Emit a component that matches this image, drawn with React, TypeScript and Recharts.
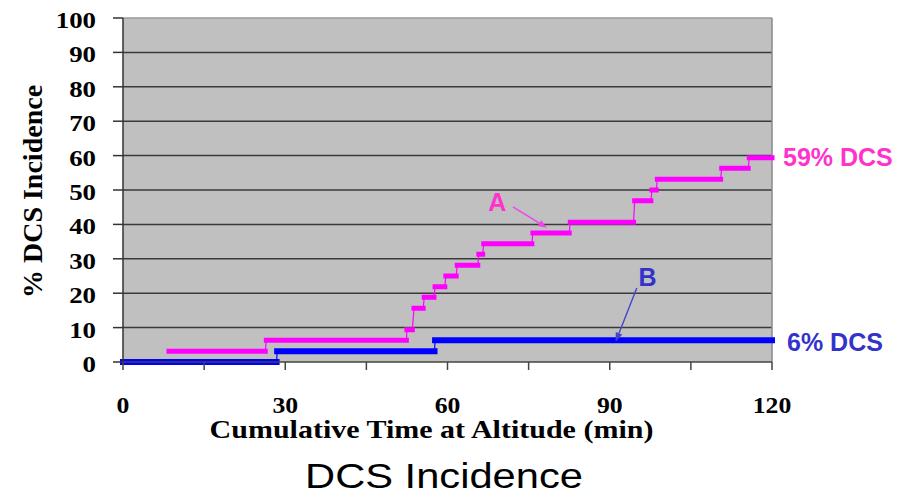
import React from 'react';
import {
  LineChart,
  Line,
  XAxis,
  YAxis,
  CartesianGrid,
  ReferenceLine,
  ReferenceDot,
  Label,
} from 'recharts';

// ---------- data ----------
const xTicks = [0, 15, 30, 45, 60, 75, 90, 105, 120];
const xTickLabels = ['0', '', '30', '', '60', '', '90', '', '120'];
const yTicks = [0, 10, 20, 30, 40, 50, 60, 70, 80, 90, 100];
const gridValues = [10, 20, 30, 40, 50, 60, 70, 80, 90];

// Series A (magenta): step levels (% DCS) and start / end times (min)
const pinkLevels = [3.1, 6.3, 9.4, 15.6, 18.8, 21.9, 25.0, 28.1, 31.3, 34.4, 37.5, 40.6, 46.9, 50.0, 53.1, 56.3, 59.4];
const pinkStarts = [8.5, 26.5, 52.5, 53.8, 55.7, 57.7, 59.7, 61.8, 65.8, 66.7, 75.8, 82.7, 94.6, 97.8, 98.8, 110.7, 115.8];
const pinkEnds = [26.3, 52.4, 53.5, 55.5, 57.5, 59.5, 61.6, 65.6, 66.5, 75.6, 82.5, 94.4, 97.6, 98.6, 110.5, 115.6, 120];

// Series B (blue)
const blueLevels = [0, 3.1, 6.3];
const blueStarts = [0, 28.5, 57.7];
const blueEnds = [28.4, 57.6, 120];

// annotation positions (data coordinates)
const labelA = { x: 69.2, y: 46.4 };
const arrowA = [{ x: 72.1, y: 45.1 }, { x: 78.4, y: 39.0 }];
const labelB = { x: 97.0, y: 24.6 };
const arrowB = [{ x: 95.0, y: 21.5 }, { x: 91.1, y: 5.9 }];
const endA = { x: 120, y: 59.4, text: '59% DCS' };
const endB = { x: 120, y: 6.3, text: '6% DCS' };

// ---------- helpers ----------
type Pt = { x: number; y: number | null };
const thickData = (s: number[], e: number[], l: number[]): Pt[] =>
  s.flatMap((v, i) => [
    { x: v, y: l[i] },
    { x: e[i], y: l[i] },
    { x: e[i], y: null },
  ]);
const thinData = (s: number[], e: number[], l: number[]): Pt[] =>
  s.flatMap((v, i) => [
    { x: v, y: l[i] },
    { x: e[i], y: l[i] },
  ]);

const SERIF = "'Liberation Serif', 'Times New Roman', Times, serif";
const SANS = "'Liberation Sans', Arial, Helvetica, sans-serif";
const PINK = '#ff00ff';
const BLUE = '#0000ff';
const PINK_TEXT = '#ff33cc';
const BLUE_TEXT = '#3333cc';

const XTick = (props: any) => {
  const { x, y, payload } = props;
  const idx = xTicks.indexOf(payload.value);
  const label = idx >= 0 ? xTickLabels[idx] : '';
  if (!label) return <g />;
  return (
    <g transform={`translate(${x},${y + 41}) scale(1.12,1)`}>
      <text x={0} y={0} textAnchor="middle" fontFamily={SERIF} fontWeight="bold" fontSize={23} fill="#000">
        {label}
      </text>
    </g>
  );
};

const YTick = (props: any) => {
  const { x, y, payload } = props;
  return (
    <g transform={`translate(${x - 15},${y + 10}) scale(1.12,1)`}>
      <text x={0} y={0} textAnchor="end" fontFamily={SERIF} fontWeight="bold" fontSize={24} fill="#000">
        {payload.value}
      </text>
    </g>
  );
};

const makeArrow = (color: string) => (p: any) => {
  const { x1, y1, x2, y2 } = p;
  const ang = Math.atan2(y2 - y1, x2 - x1);
  const L = 9;
  const W = 3.5;
  const bx = x2 - L * Math.cos(ang);
  const by = y2 - L * Math.sin(ang);
  const pts = `${x2},${y2} ${bx - W * Math.sin(ang)},${by + W * Math.cos(ang)} ${bx + W * Math.sin(ang)},${by - W * Math.cos(ang)}`;
  return (
    <g>
      <line x1={x1} y1={y1} x2={bx} y2={by} stroke={color} strokeWidth={1.4} />
      <polygon points={pts} fill={color} />
    </g>
  );
};

const makeText = (text: string, color: string, size: number, dx: number, dy: number, anchor: string) => (p: any) => (
  <text
    x={p.cx + dx}
    y={p.cy + dy}
    fill={color}
    fontSize={size}
    fontWeight="bold"
    fontFamily={SANS}
    textAnchor={anchor as any}
  >
    {text}
  </text>
);

export default function App() {
  const pinkThick = thickData(pinkStarts, pinkEnds, pinkLevels);
  const pinkThin = thinData(pinkStarts, pinkEnds, pinkLevels);
  const blueThick = thickData(blueStarts, blueEnds, blueLevels);
  const blueThin = thinData(blueStarts, blueEnds, blueLevels);

  return (
    <div style={{ position: 'absolute', left: 0, top: 0, width: 900, height: 497, background: '#fff' }}>
      <LineChart width={900} height={497} margin={{ top: 18, right: 128, left: 23, bottom: 35 }}>
        <CartesianGrid
          horizontal
          vertical={false}
          fill="#c0c0c0"
          stroke="#3a3a3a"
          strokeWidth={1.5}
          horizontalValues={gridValues}
        />
        <XAxis
          type="number"
          dataKey="x"
          domain={[0, 120]}
          ticks={xTicks}
          interval={0}
          height={100}
          tickSize={8}
          tick={<XTick />}
          axisLine={{ stroke: '#444', strokeWidth: 1.5 }}
          tickLine={{ stroke: '#444', strokeWidth: 1.5 }}
        >
          <Label
            content={(p: any) => {
              const vb = p.viewBox;
              return (
                <g transform={`translate(${vb.x + vb.width / 2 - 16},${vb.y + 76}) scale(1.2,1)`}>
                  <text x={0} y={0} textAnchor="middle" fontFamily={SERIF} fontWeight="bold" fontSize={25} fill="#000">
                    Cumulative Time at Altitude (min)
                  </text>
                </g>
              );
            }}
          />
        </XAxis>
        <YAxis
          type="number"
          domain={[0, 100]}
          ticks={yTicks}
          interval={0}
          width={100}
          tickSize={10}
          tick={<YTick />}
          axisLine={{ stroke: '#333', strokeWidth: 1.5 }}
          tickLine={{ stroke: '#333', strokeWidth: 1.5 }}
        >
          <Label
            content={(p: any) => {
              const vb = p.viewBox;
              return (
                <text
                  transform={`translate(${vb.x + 18.5},${vb.y + vb.height / 2 + 1.5}) rotate(-90)`}
                  x={0}
                  y={0}
                  textAnchor="middle"
                  fontFamily={SERIF}
                  fontWeight="bold"
                  fontSize={28}
                  fill="#000"
                >
                  % DCS Incidence
                </text>
              );
            }}
          />
        </YAxis>
        <ReferenceLine y={100} stroke="#9a9a9a" strokeWidth={1.5} />
        <ReferenceLine x={120} stroke="#8a8a8a" strokeWidth={1.5} />

        <Line data={pinkThin} dataKey="y" stroke={PINK} strokeWidth={1.2} dot={false} activeDot={false} isAnimationActive={false} connectNulls={false} />
        <Line data={pinkThick} dataKey="y" stroke={PINK} strokeWidth={5} strokeLinecap="square" dot={false} activeDot={false} isAnimationActive={false} connectNulls={false} />
        <Line data={blueThin} dataKey="y" stroke={BLUE} strokeWidth={1.2} dot={false} activeDot={false} isAnimationActive={false} connectNulls={false} />
        <Line data={blueThick} dataKey="y" stroke={BLUE} strokeWidth={6} strokeLinecap="square" dot={false} activeDot={false} isAnimationActive={false} connectNulls={false} />

        <ReferenceLine segment={arrowA} shape={makeArrow('#ee44ee')} />
        <ReferenceLine segment={arrowB} shape={makeArrow('#4444cc')} />
        <ReferenceDot x={labelA.x} y={labelA.y} r={0} shape={makeText('A', PINK_TEXT, 25, 0, 9, 'middle')} />
        <ReferenceDot x={labelB.x} y={labelB.y} r={0} shape={makeText('B', BLUE_TEXT, 25, 0, 9, 'middle')} />
        <ReferenceDot x={endA.x} y={endA.y} r={0} ifOverflow="visible" shape={makeText(endA.text, PINK_TEXT, 25, 11, 8, 'start')} />
        <ReferenceDot x={endB.x} y={endB.y} r={0} ifOverflow="visible" shape={makeText(endB.text, BLUE_TEXT, 25, 15, 11, 'start')} />
      </LineChart>
      <div
        style={{
          position: 'absolute',
          left: 0,
          top: 456,
          width: 888,
          textAlign: 'center',
          fontFamily: SANS,
          fontSize: 35,
          lineHeight: '40px',
          color: '#000',
          transform: 'scaleX(1.19)',
          transformOrigin: '444px 0',
        }}
      >
        DCS Incidence
      </div>
    </div>
  );
}
